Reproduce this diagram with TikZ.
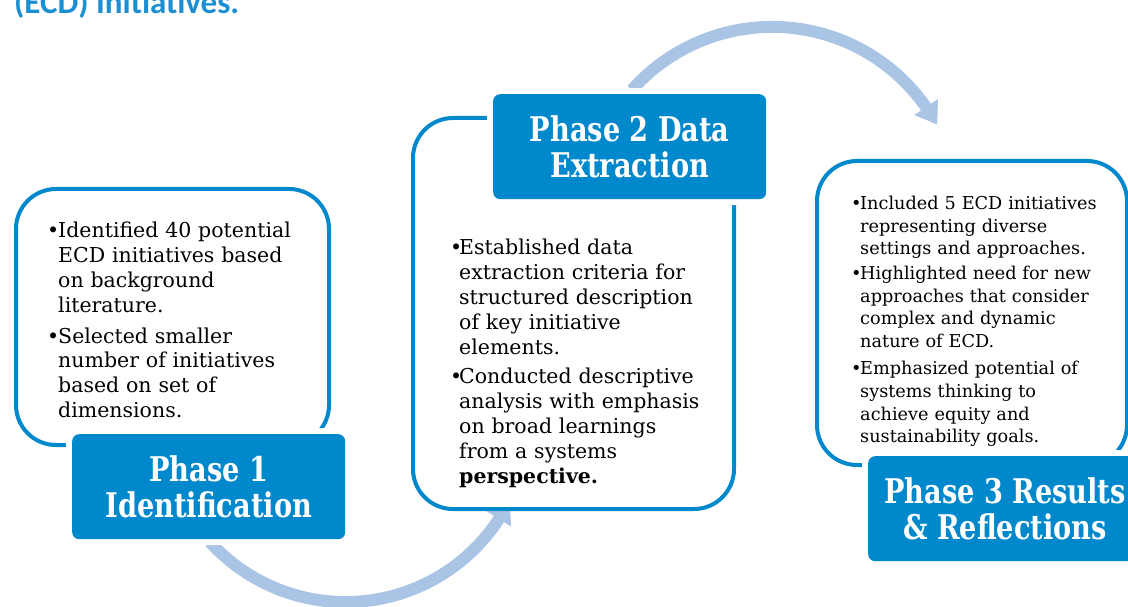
\documentclass[tikz,border=0pt]{standalone}
\usepackage{fontspec}
\setmainfont{DejaVu Serif}
\newfontfamily\headfont{DejaVu Serif}[FakeStretch=0.8]
\newfontfamily\titlefont{Carlito}
\usetikzlibrary{arrows.meta,bending}
\definecolor{pblue}{HTML}{0088CC}
\definecolor{abl}{HTML}{A9C4E4}
\definecolor{tblue}{HTML}{1B8FD2}
\newcommand\nl{\hfil\break}
\newcommand\bul[2]{\par\noindent\hangindent=#1\hangafter=1\makebox[#1][l]{\textbullet}#2\par}
\tikzset{
  wbox/.style={draw=pblue, line width=4pt, fill=white, rounded corners=40pt, anchor=north west, inner sep=0pt},
  pbox/.style={fill=pblue, rounded corners=7pt, anchor=north west, inner sep=0pt,
    preaction={draw=white, line width=12pt}},
  head/.style={text=white, font=\headfont\bfseries\fontsize{34}{36}\selectfont, align=center, inner sep=0pt},
  body/.style={anchor=north west, inner sep=0pt, font=\fontsize{20.5}{24.8}\selectfont},
  flow/.style={draw=abl, line width=12pt, -{Triangle[width=27pt,length=21pt,bend]}},
}
\begin{document}
\begin{tikzpicture}[x=1pt,y=-1pt]
\useasboundingbox (0,0) rectangle (1128,607);
\begin{scope}
\clip (0,0) rectangle (1128,607);
\node[anchor=base west, inner sep=0pt, text=tblue, font=\titlefont\bfseries\fontsize{33}{35}\selectfont] (title) at (14,14) {(ECD) Initiatives.};
% arrows
\coordinate (a1s) at (210,542);
\draw[flow] (a1s) arc[start angle=137.8, end angle=26.5, radius=183];
\coordinate (a2s) at (632,89.9);
\draw[flow] (a2s) arc[start angle=-138.4, end angle=-28.5, radius=187.5];
% white boxes
\node[wbox, minimum width=313pt, minimum height=256pt] (b1) at (14,187) {};
\node[wbox, minimum width=321pt, minimum height=391pt] (b2) at (411,116) {};
\node[wbox, minimum width=310pt, minimum height=304pt] (b3) at (815,159) {};
% phase boxes
\node[pbox, minimum width=273pt, minimum height=105pt] (p1) at (72,434) {};
\node[pbox, minimum width=273pt, minimum height=105pt] (p2) at (493,94) {};
\node[pbox, minimum width=274pt, minimum height=105pt] (p3) at (868,456) {};
\node[head] (h1) at (p1.center) {Phase 1\\Identification};
\node[head] (h2) at (p2.center) {Phase 2 Data\\Extraction};
\node[head] (h3) at (1005,509) {Phase 3 Results\\\& Reflections};
% texts
\node[body, text width=265pt] (t1) at (47,213) {%
\bul{11pt}{Identified 40 potential\nl ECD initiatives based\nl on background\nl literature.}\vspace{6pt}
\bul{11pt}{Selected smaller\nl number of initiatives\nl based on set of\nl dimensions.}};
\node[body, text width=265pt] (t2) at (450,230) {%
\bul{9pt}{Established data\nl extraction criteria for\nl structured description\nl of key initiative\nl elements.}\vspace{5pt}
\bul{9pt}{Conducted descriptive\nl analysis with emphasis\nl on broad learnings\nl from a systems\nl \textbf{perspective.}}};
\node[body, text width=265pt, font=\fontsize{17.7}{22.6}\selectfont] (t3) at (851,187) {%
\bul{9pt}{Included 5 ECD initiatives\nl representing diverse\nl settings and approaches.}\vspace{2pt}
\bul{9pt}{Highlighted need for new\nl approaches that consider\nl complex and dynamic\nl nature of ECD.}\vspace{5pt}
\bul{9pt}{Emphasized potential of\nl systems thinking to\nl achieve equity and\nl sustainability goals.}};
\end{scope}
\end{tikzpicture}
\end{document}
